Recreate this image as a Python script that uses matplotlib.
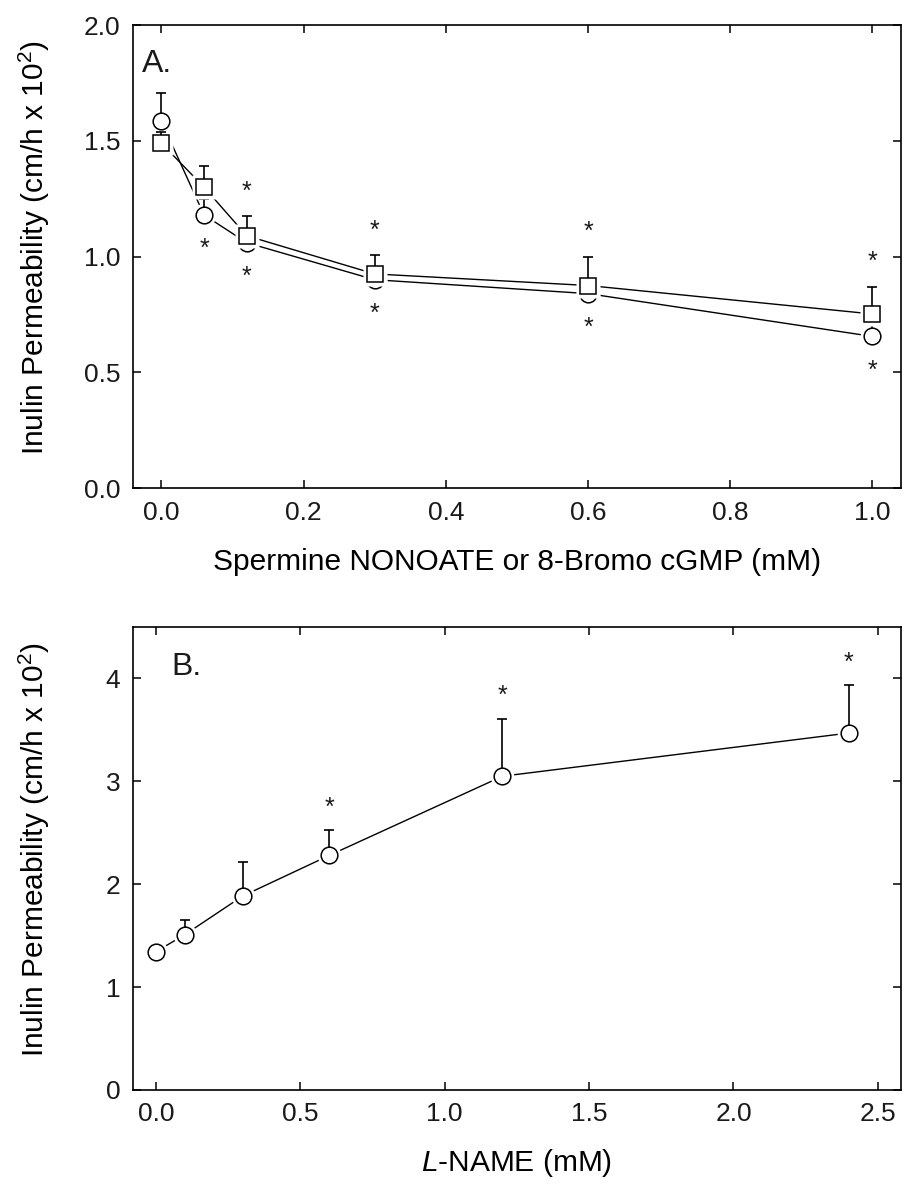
import matplotlib
matplotlib.use("Agg")
import matplotlib.pyplot as plt

plt.rcParams["font.family"] = ["Liberation Sans", "DejaVu Sans"]
plt.rcParams["mathtext.fontset"] = "custom"
plt.rcParams["mathtext.rm"] = "Liberation Sans"
plt.rcParams["mathtext.it"] = "Liberation Sans:italic"
plt.rcParams["text.color"] = "#1a1a1a"
plt.rcParams["xtick.labelcolor"] = "#1a1a1a"
plt.rcParams["ytick.labelcolor"] = "#1a1a1a"

# Panel A: dose response (circles and squares), mean and upper SE
a_dose = [0.0, 0.06, 0.12, 0.3, 0.6, 1.0]
a_circle = [1.585, 1.18, 1.06, 0.90, 0.84, 0.655]
a_circle_err = [0.12, 0.07, 0.05, 0.04, 0.05, 0.06]
a_circle_sig = [False, True, True, True, True, True]
a_square = [1.49, 1.30, 1.09, 0.925, 0.875, 0.752]
a_square_err = [0.05, 0.09, 0.085, 0.08, 0.124, 0.118]
a_square_sig = [False, False, True, True, True, True]

# Panel B: L-NAME
b_dose = [0.0, 0.1, 0.3, 0.6, 1.2, 2.4]
b_perm = [1.345, 1.51, 1.885, 2.28, 3.05, 3.47]
b_err = [0.04, 0.14, 0.33, 0.245, 0.56, 0.465]
b_sig = [False, False, False, True, True, True]

a_xticks = [0.0, 0.2, 0.4, 0.6, 0.8, 1.0]
a_yticks = [0.0, 0.5, 1.0, 1.5, 2.0]
b_xticks = [0.0, 0.5, 1.0, 1.5, 2.0, 2.5]
b_yticks = [0, 1, 2, 3, 4]

ylab = r"Inulin Permeability (cm/h x 10$^{2}$)"

fig = plt.figure(figsize=(9.04, 11.84), dpi=100)
axA = fig.add_axes([0.147, 0.5878, 0.8496, 0.391])
axB = fig.add_axes([0.147, 0.0794, 0.8496, 0.391])


def series(ax, x, y, err, marker, z):
    # line, white halo so the line stops short of the symbol, error bar, symbol
    ax.plot(x, y, color="black", lw=1.0, zorder=z)
    ax.plot(x, y, ls="none", marker=marker, ms=17, mfc="white", mec="none", zorder=z + 1)
    lower = [0] * len(err)
    ax.errorbar(x, y, yerr=[lower, err], fmt="none", ecolor="black",
                elinewidth=1.2, capsize=3.5, capthick=1.2, zorder=z + 2)
    ax.plot(x, y, ls="none", marker=marker, ms=12, mfc="white", mec="black",
            mew=1.1, zorder=z + 3)


def stars(ax, x, y, sig, offset):
    for xi, yi, s in zip(x, y, sig):
        if s:
            ax.annotate("*", xy=(xi, yi), xytext=(0, offset), textcoords="offset points",
                        ha="center", va="baseline", fontsize=18)


# Panel A
series(axA, a_dose, a_circle, a_circle_err, "o", 2)
series(axA, a_dose, a_square, a_square_err, "s", 6)
a_sq_top = [v + e for v, e in zip(a_square, a_square_err)]
stars(axA, a_dose, a_sq_top, a_square_sig, 12.7)
stars(axA, a_dose, a_circle, a_circle_sig, -29.7)

axA.set_xlim(-0.04, 1.04)
axA.set_ylim(0, 2.0)
axA.set_xticks(a_xticks)
axA.set_xticklabels([f"{t:.1f}" for t in a_xticks])
axA.set_yticks(a_yticks)
axA.set_yticklabels([f"{t:.1f}" for t in a_yticks])
axA.set_xlabel("Spermine NONOATE or 8-Bromo cGMP (mM)", fontsize=21.5, labelpad=17)
axA.set_ylabel(ylab, fontsize=21.5)
axA.text(0.012, 0.916, "A.", transform=axA.transAxes, va="center", ha="left", fontsize=23)

# Panel B
series(axB, b_dose, b_perm, b_err, "o", 2)
b_top = [v + e for v, e in zip(b_perm, b_err)]
stars(axB, b_dose, b_top, b_sig, 11.3)

axB.set_xlim(-0.08, 2.58)
axB.set_ylim(0, 4.5)
axB.set_xticks(b_xticks)
axB.set_xticklabels([f"{t:.1f}" for t in b_xticks])
axB.set_yticks(b_yticks)
axB.set_xlabel(r"$\it{L}$-NAME (mM)", fontsize=21.5, labelpad=15)
axB.set_ylabel(ylab, fontsize=21.5)
axB.text(0.05, 0.914, "B.", transform=axB.transAxes, va="center", ha="left", fontsize=23)

for ax in (axA, axB):
    ax.tick_params(direction="in", top=True, right=True, length=5.8, width=1.1,
                   labelsize=19, pad=9)
    for sp in ax.spines.values():
        sp.set_linewidth(1.2)
    ax.yaxis.set_label_coords(-0.105, 0.52)

fig.savefig("out.png", dpi=100)
